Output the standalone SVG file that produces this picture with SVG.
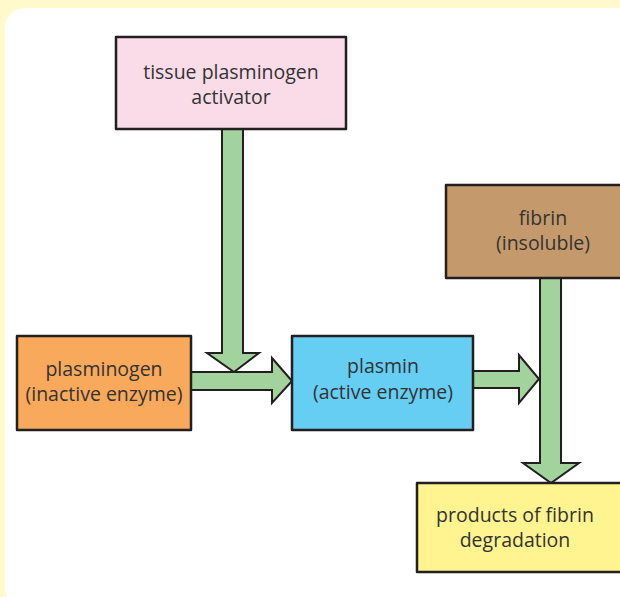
<svg xmlns="http://www.w3.org/2000/svg" width="620" height="597" viewBox="0 0 620 597">
  <style>
    .box { stroke: #231f20; stroke-width: 2.5; stroke-linejoin: round; }
    .arrow { fill: #a3d39c; stroke: #231f20; stroke-width: 2; stroke-linejoin: miter; }
    .label { font-family: "Open Sans", "Liberation Sans", sans-serif; font-size: 19.5px; fill: #333333; text-anchor: middle; }
  </style>
  <!-- page background and panel -->
  <rect x="0" y="0" width="620" height="597" fill="#fff9cc"/>
  <rect x="5" y="8" width="660" height="600" rx="20" ry="20" fill="#ffffff"/>

  <!-- connectors (block arrows) -->
  <g id="connectors">
    <!-- activator down to plasminogen->plasmin arrow -->
    <path class="arrow" d="M222,129 L243,129 L243,353 L259,353 L234,372 L207,353 L222,353 Z"/>
    <!-- plasminogen to plasmin -->
    <path class="arrow" d="M191,372 L272,372 L272,358 L292,381 L272,403 L272,390 L191,390 Z"/>
    <!-- plasmin to fibrin breakdown -->
    <path class="arrow" d="M473,371 L519,371 L519,355 L539,379 L519,403 L519,388 L473,388 Z"/>
    <!-- fibrin down to products -->
    <path class="arrow" d="M540,278 L561,278 L561,463 L579,463 L551,483 L523,463 L540,463 Z"/>
  </g>

  <g id="tpa">
    <rect class="box" x="116" y="37" width="230" height="92" fill="#f9dce7"/>
    <text class="label" x="231" y="79">tissue plasminogen</text>
    <text class="label" x="231" y="104">activator</text>
  </g>

  <g id="plasminogen">
    <rect class="box" x="17" y="336" width="174" height="94" fill="#f9a95c"/>
    <text class="label" x="104" y="376">plasminogen</text>
    <text class="label" x="104" y="401">(inactive enzyme)</text>
  </g>

  <g id="plasmin">
    <rect class="box" x="292" y="336" width="181" height="94" fill="#66cdf3"/>
    <text class="label" x="383" y="373">plasmin</text>
    <text class="label" x="383" y="399">(active enzyme)</text>
  </g>

  <g id="fibrin">
    <rect class="box" x="446" y="185" width="200" height="93" fill="#c49a6c"/>
    <text class="label" x="543" y="225">fibrin</text>
    <text class="label" x="543" y="250">(insoluble)</text>
  </g>

  <g id="products">
    <rect class="box" x="417" y="483" width="220" height="89" fill="#fff48f"/>
    <text class="label" x="515" y="522">products of fibrin</text>
    <text class="label" x="515" y="547">degradation</text>
  </g>
</svg>
